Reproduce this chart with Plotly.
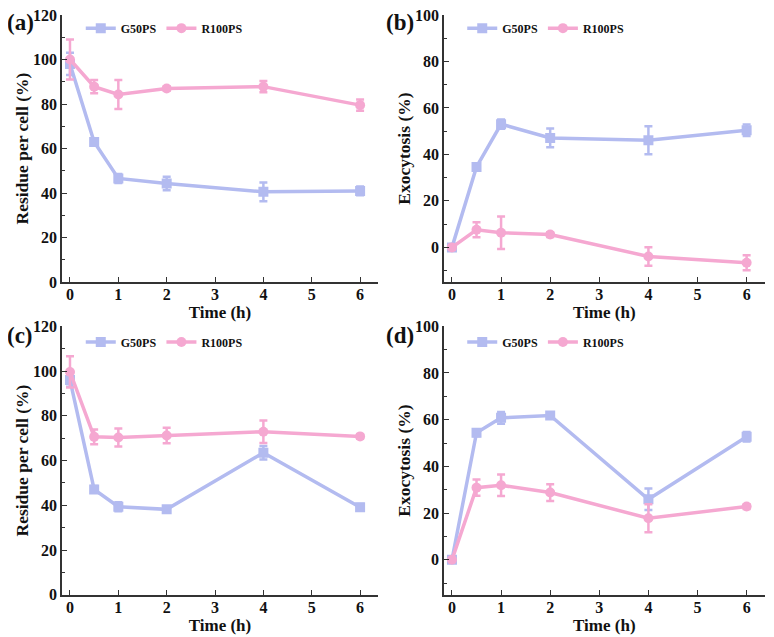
import plotly.graph_objects as go

time = [0, 0.5, 1, 2, 4, 6]

# (a) Residue per cell
a_g50 = [98, 63, 46.6, 44.3, 40.6, 41]
a_g50_err = [5, 1.5, 2, 3, 4.2, 2]
a_r100 = [100, 87.8, 84.3, 87, 87.8, 79.5]
a_r100_err = [9, 3, 6.5, 1, 2.5, 2.5]

# (b) Exocytosis
b_g50 = [0, 34.6, 53, 47.1, 46.1, 50.4]
b_g50_err = [0.5, 1, 2, 4, 6, 2.5]
b_r100 = [0, 7.6, 6.3, 5.5, -3.9, -6.6]
b_r100_err = [1, 3.2, 7, 1, 4, 3.2]

# (c) Residue per cell
c_g50 = [96, 47.1, 39.4, 38.2, 63.5, 39.1]
c_g50_err = [3, 1.5, 2, 1, 3, 1.5]
c_r100 = [99.6, 70.6, 70.3, 71.2, 72.9, 70.8]
c_r100_err = [7, 3.3, 4, 3.5, 5, 1]

# (d) Exocytosis
d_g50 = [0, 54.4, 60.8, 61.8, 25.9, 52.7]
d_g50_err = [0.5, 1.5, 2.5, 1, 4.6, 2]
d_r100 = [0, 30.9, 31.9, 28.8, 17.8, 22.8]
d_r100_err = [0.5, 3.5, 4.6, 3.6, 6, 1]

series_names = ["G50PS", "R100PS"]
panel_labels = ["(a)", "(b)", "(c)", "(d)"]

BLUE = "#b3bbf0"
PINK = "#f5a8d1"
AXC = "#333333"
FONT = "Liberation Serif"
TXT = "#111111"

fig = go.Figure()

panels = [
    (a_g50, a_g50_err, a_r100, a_r100_err, "Residue per cell (%)", [0, 120]),
    (b_g50, b_g50_err, b_r100, b_r100_err, "Exocytosis (%)", [-15, 100]),
    (c_g50, c_g50_err, c_r100, c_r100_err, "Residue per cell (%)", [0, 120]),
    (d_g50, d_g50_err, d_r100, d_r100_err, "Exocytosis (%)", [-15, 100]),
]

xdoms = [[0.0705, 0.483], [0.569, 0.988], [0.0705, 0.483], [0.569, 0.988]]
ydoms = [[0.564, 0.989], [0.564, 0.989], [0.067, 0.494], [0.067, 0.494]]
legend_pos = [(0.095, 0.968), (0.593, 0.968), (0.095, 0.469), (0.593, 0.469)]
label_pos = [(-0.004, 1.0), (0.4905, 1.0), (-0.004, 0.502), (0.4905, 0.502)]

for i, (g, ge, r, re_, ytitle, yr) in enumerate(panels):
    n = "" if i == 0 else str(i + 1)
    leg = "legend" if i == 0 else f"legend{i+1}"
    for name, vals, errs, col, sym in [
        (series_names[0], g, ge, BLUE, "square"),
        (series_names[1], r, re_, PINK, "circle"),
    ]:
        fig.add_trace(go.Scatter(
            x=time, y=vals, name=name, mode="lines+markers",
            line=dict(color=col, width=3.5),
            marker=dict(symbol=sym, size=10, color=col),
            error_y=dict(type="data", array=errs, visible=True, color=col,
                         thickness=2.5, width=4),
            xaxis="x" + n, yaxis="y" + n, legend=leg,
        ))
    common = dict(showline=True, linecolor=AXC, linewidth=1.5, ticks="inside",
                  tickcolor=AXC, ticklen=5, tickwidth=1.2, showgrid=False,
                  zeroline=False, mirror=False, automargin=False,
                  ticklabeloverflow="allow",
                  tickfont=dict(family=FONT, size=16, color=TXT, weight="bold"))
    fig.update_layout({
        "xaxis" + n: dict(domain=xdoms[i], range=[-0.165, 6.37], tickmode="array",
                          tickvals=[0, 1, 2, 3, 4, 5, 6], anchor="y" + n,
                          ticklabelstandoff=-3,
                          title=dict(text="Time (h)", standoff=0,
                                     font=dict(family=FONT, size=17, color=TXT, weight="bold")),
                          **common),
        "yaxis" + n: dict(domain=ydoms[i], range=yr, dtick=20, tick0=0, anchor="x" + n,
                          title=dict(text=ytitle, standoff=0,
                                     font=dict(family=FONT, size=17.5, color=TXT, weight="bold")),
                          minor=dict(ticks="inside", ticklen=3, tickcolor=AXC, dtick=10,
                                     tick0=0, showgrid=False),
                          **common),
        leg: dict(x=legend_pos[i][0], y=legend_pos[i][1], xanchor="left", yanchor="middle",
                  orientation="h", bgcolor="rgba(0,0,0,0)",
                  font=dict(family=FONT, size=12, color=TXT, weight="bold"),
                  itemwidth=30, tracegroupgap=0),
    })
    fig.add_annotation(text=panel_labels[i], xref="paper", yref="paper",
                       x=label_pos[i][0], y=label_pos[i][1], xanchor="left", yanchor="top",
                       showarrow=False,
                       font=dict(family=FONT, size=23, color=TXT, weight="bold"))

fig.update_layout(
    width=766, height=629,
    margin=dict(l=0, r=0, t=0, b=0, autoexpand=False),
    paper_bgcolor="white", plot_bgcolor="white",
    showlegend=True,
)

fig.write_html("out.html")
